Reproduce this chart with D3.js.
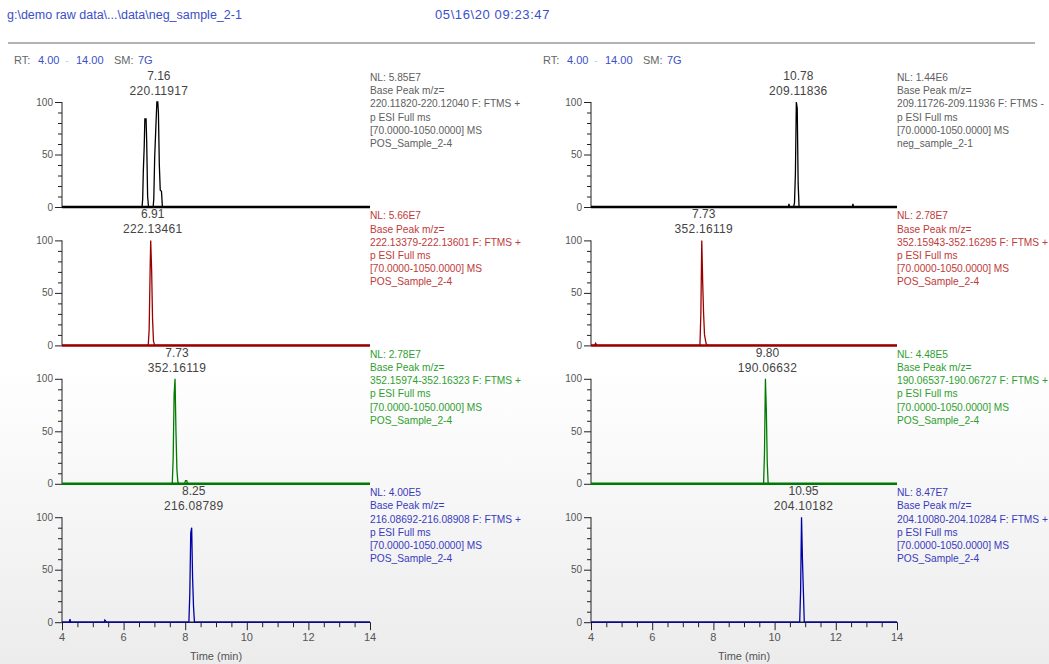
<!DOCTYPE html>
<html>
<head>
<meta charset="utf-8">
<script src="https://d3js.org/d3.v7.min.js"></script>
<style>
  body { margin: 0; background: #fff; }
  svg { font-family: "Liberation Sans", Arial, sans-serif; }
</style>
</head>
<body>
<svg id="chart" width="1049" height="664"></svg>
<script>
// ---- data ----
const xTicks = [4, 6, 8, 10, 12, 14];
const yTicks = [0, 50, 100];

// left column traces [time (min), relative abundance]
const traceL1 = [[4,0],[6.60,0],[6.62,8],[6.64,34],[6.67,58],[6.69,84],[6.73,84],[6.75,62],[6.78,10],[6.81,0],[6.96,0],[6.98,8],[7.01,48],[7.05,78],[7.08,100],[7.11,100],[7.13,90],[7.16,40],[7.19,16],[7.23,15],[7.26,0],[14,0]];
const traceL2 = [[4,0],[6.80,0],[6.83,15],[6.86,70],[6.88,100],[6.91,72],[6.94,25],[6.97,4],[7.01,0],[14,0]];
const traceL3 = [[4,0],[7.58,0],[7.61,25],[7.64,85],[7.67,100],[7.70,50],[7.73,14],[7.76,2],[7.80,0],[7.98,0],[8.01,3],[8.05,3],[8.08,0],[14,0]];
const traceL4 = [[4,0],[4.24,0],[4.26,3],[4.28,0],[5.37,0],[5.39,2],[5.42,1],[5.44,0],[8.12,0],[8.15,28],[8.18,85],[8.21,90],[8.24,42],[8.27,15],[8.30,0],[14,0]];

// right column traces
const traceR1 = [[4,0],[10.45,0],[10.47,3],[10.49,0],[10.62,0],[10.65,4],[10.68,32],[10.71,100],[10.74,94],[10.77,22],[10.80,0],[12.54,0],[12.56,3],[12.58,0],[14,0]];
const traceR2 = [[4,0],[4.12,0],[4.15,2],[4.19,0],[7.56,0],[7.59,30],[7.62,100],[7.65,60],[7.68,30],[7.71,10],[7.76,2],[7.80,0],[14,0]];
const traceR3 = [[4,0],[9.64,0],[9.67,30],[9.70,100],[9.73,70],[9.76,20],[9.79,0],[14,0]];
const traceR4 = [[4,0],[10.82,0],[10.85,30],[10.88,100],[10.91,60],[10.94,30],[10.97,0],[14,0]];

const leftRT  = ["7.16", "6.91", "7.73", "8.25"];
const leftMZ  = ["220.11917", "222.13461", "352.16119", "216.08789"];
const rightRT = ["10.78", "7.73", "9.80", "10.95"];
const rightMZ = ["209.11836", "352.16119", "190.06632", "204.10182"];

const leftNL  = ["NL: 5.85E7", "NL: 5.66E7", "NL: 2.78E7", "NL: 4.00E5"];
const rightNL = ["NL: 1.44E6", "NL: 2.78E7", "NL: 4.48E5", "NL: 8.47E7"];

const leftRange  = ["220.11820-220.12040 F: FTMS +", "222.13379-222.13601 F: FTMS +",
                    "352.15974-352.16323 F: FTMS +", "216.08692-216.08908 F: FTMS +"];
const rightRange = ["209.11726-209.11936 F: FTMS -", "352.15943-352.16295 F: FTMS +",
                    "190.06537-190.06727 F: FTMS +", "204.10080-204.10284 F: FTMS +"];
const leftSample  = ["POS_Sample_2-4", "POS_Sample_2-4", "POS_Sample_2-4", "POS_Sample_2-4"];
const rightSample = ["neg_sample_2-1", "POS_Sample_2-4", "POS_Sample_2-4", "POS_Sample_2-4"];

// ---- styles ----
const traceColors = ["#000000", "#9a0000", "#007a00", "#0000a8"];
const textColors  = ["#606060", "#c03a3a", "#2fa02f", "#3a3ac0"];
const blue = "#3b4fc8", grey = "#666";

const svg = d3.select("#chart");

// faint page shading
const grad = svg.append("defs").append("linearGradient")
  .attr("id", "bg").attr("x1", 0).attr("y1", 0).attr("x2", 0).attr("y2", 1);
grad.append("stop").attr("offset", "0.55").attr("stop-color", "#ffffff");
grad.append("stop").attr("offset", "1").attr("stop-color", "#ececec");
svg.append("rect").attr("width", 1049).attr("height", 664).attr("fill", "url(#bg)");

// header
svg.append("text").attr("x", 7).attr("y", 19).attr("font-size", 12.5).attr("fill", blue)
  .text("g:\\demo raw data\\...\\data\\neg_sample_2-1");
svg.append("text").attr("x", 435).attr("y", 19).attr("font-size", 13).attr("fill", blue)
  .attr("letter-spacing", 0.6)
  .text("05\\16\\20 09:23:47");
svg.append("line").attr("x1", 8).attr("x2", 1035).attr("y1", 43).attr("y2", 43)
  .attr("stroke", "#b4b4b4").attr("stroke-width", 2);

function rtHeader(x) {
  const g = svg.append("g").attr("font-size", 11);
  g.append("text").attr("x", x).attr("y", 64).attr("fill", grey).text("RT:");
  g.append("text").attr("x", x + 24).attr("y", 64).attr("fill", blue).text("4.00");
  g.append("text").attr("x", x + 51).attr("y", 64).attr("fill", "#c8cbe8").text("-");
  g.append("text").attr("x", x + 62).attr("y", 64).attr("fill", blue).text("14.00");
  g.append("text").attr("x", x + 100).attr("y", 64).attr("fill", grey).text("SM:");
  g.append("text").attr("x", x + 124).attr("y", 64).attr("fill", blue).text("7G");
}
rtHeader(14);
rtHeader(543);

const columns = [
  { x0: 62, x1: 370, traces: [traceL1, traceL2, traceL3, traceL4], rt: leftRT, mz: leftMZ,
    nl: leftNL, range: leftRange, sample: leftSample },
  { x0: 591, x1: 897, traces: [traceR1, traceR2, traceR3, traceR4], rt: rightRT, mz: rightMZ,
    nl: rightNL, range: rightRange, sample: rightSample }
];

const panelH = 105, firstZero = 207, step = 138.4;

columns.forEach(col => {
  const x = d3.scaleLinear().domain([4, 14]).range([col.x0, col.x1]);

  col.traces.forEach((trace, i) => {
    const y0 = firstZero + i * step;
    const y = d3.scaleLinear().domain([0, 100]).range([y0, y0 - panelH]);
    const g = svg.append("g");
    const last = i === col.traces.length - 1;

    // y axis
    const yAxis = g.append("g").attr("transform", `translate(${col.x0},0)`)
      .call(d3.axisLeft(y).tickValues(d3.range(0, 101, 10)).tickSize(4).tickFormat(""));
    yAxis.select(".domain").remove();
    yAxis.selectAll(".tick line").attr("stroke", "#222")
      .attr("x2", d => yTicks.includes(d) ? -7 : -4);
    g.append("line").attr("x1", col.x0).attr("x2", col.x0)
      .attr("y1", y(0)).attr("y2", y(100)).attr("stroke", "#222");
    g.selectAll(".ylab").data(yTicks).join("text")
      .attr("x", col.x0 - 9).attr("y", d => y(d) + 3.5)
      .attr("text-anchor", "end").attr("font-size", 10).attr("fill", "#555")
      .text(d => d);

    // baseline / x axis
    if (last) {
      const xAxis = g.append("g").attr("transform", `translate(0,${y0})`)
        .call(d3.axisBottom(x).tickValues(d3.range(4, 14.01, 0.5)).tickFormat(""));
      xAxis.select(".domain").remove();
      xAxis.selectAll(".tick line").attr("stroke", "#222")
        .attr("y2", d => xTicks.includes(d) ? 8 : 5);
      g.append("line").attr("x1", col.x0).attr("x2", col.x1).attr("y1", y0).attr("y2", y0)
        .attr("stroke", "#222").attr("stroke-width", 1.5);
      g.selectAll(".xlab").data(xTicks).join("text")
        .attr("x", d => x(d)).attr("y", y0 + 19)
        .attr("text-anchor", "middle").attr("font-size", 11).attr("fill", "#555")
        .text(d => d);
      g.append("text").attr("x", (col.x0 + col.x1) / 2).attr("y", y0 + 38)
        .attr("text-anchor", "middle").attr("font-size", 11).attr("fill", "#555")
        .text("Time (min)");
    } else {
      g.append("line").attr("x1", col.x0).attr("x2", col.x1).attr("y1", y0).attr("y2", y0)
        .attr("stroke", traceColors[i]).attr("stroke-width", 2.5);
    }

    // trace
    g.append("path").datum(trace)
      .attr("fill", "none").attr("stroke", traceColors[i]).attr("stroke-width", 1.3)
      .attr("d", d3.line().x(d => x(d[0])).y(d => y(d[1])));

    // peak labels above the apex
    const apex = d3.greatest(trace, d => d[1]);
    g.append("text").attr("x", x(apex[0]) + 2).attr("y", y(100) - 22)
      .attr("text-anchor", "middle").attr("font-size", 12).attr("fill", "#444")
      .text(col.rt[i]);
    g.append("text").attr("x", x(apex[0]) + 2).attr("y", y(100) - 7)
      .attr("text-anchor", "middle").attr("font-size", 12).attr("fill", "#444")
      .attr("letter-spacing", 0.3)
      .text(col.mz[i]);

    // info block
    const lines = [col.nl[i], "Base Peak m/z=", col.range[i], "p ESI Full ms",
                   "[70.0000-1050.0000] MS", col.sample[i]];
    g.selectAll(".info").data(lines).join("text")
      .attr("x", col.x1).attr("y", (d, k) => y(100) - 21 + k * 13.2)
      .attr("font-size", 10.2).attr("fill", textColors[i])
      .text(d => d);
  });
});
</script>
</body>
</html>
